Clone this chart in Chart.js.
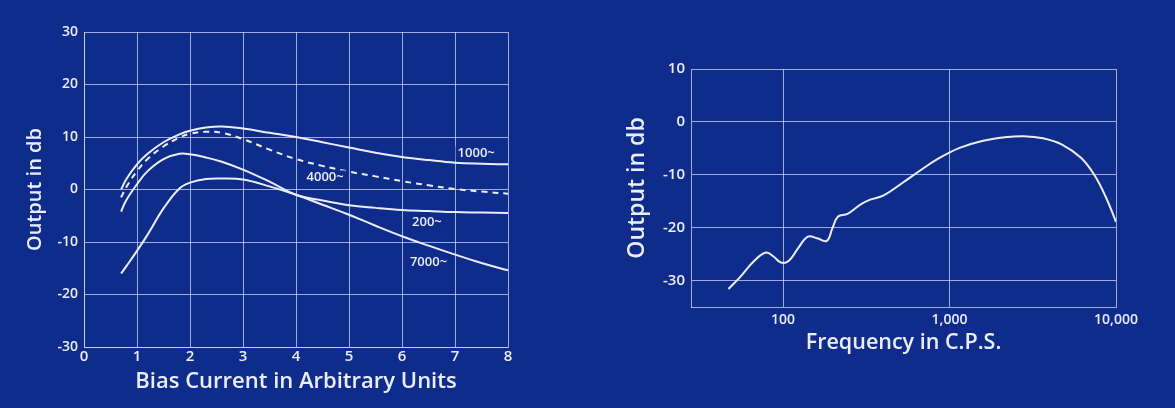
<!DOCTYPE html>
<html>
<head>
<meta charset="utf-8">
<script src="https://cdn.jsdelivr.net/npm/chart.js@4.4.1/dist/chart.umd.min.js"></script>
<style>
    html, body { margin: 0; padding: 0; background: #102c8b; }
    #wrap { position: relative; width: 1175px; height: 408px; overflow: hidden; background: #102c8b; }
    .box { position: absolute; top: 0; }
</style>
</head>
<body>
<div id="wrap">
    <div class="box" style="left:0px;"><canvas id="biasChart" width="560" height="408"></canvas></div>
    <div class="box" style="left:580px;"><canvas id="freqChart" width="595" height="408"></canvas></div>
</div>
<script>
// Linkes Diagramm: Ausgang ueber Vormagnetisierungsstrom
const biasX = [0.7, 0.8, 1.0, 1.2, 1.5, 1.8, 2.0, 2.3, 2.6, 3.0, 3.5, 4.0, 4.5, 5.0, 5.5, 6.0, 6.5, 7.0, 7.5, 8.0];
const out1000 = [0.0, 2.0, 4.8, 6.8, 9.0, 10.5, 11.2, 11.8, 12.0, 11.6, 10.8, 10.0, 9.0, 8.0, 7.0, 6.2, 5.6, 5.1, 4.9, 4.8];
const out4000 = [-1.5, 0.5, 3.5, 5.8, 8.2, 9.9, 10.6, 11.0, 10.8, 9.6, 7.6, 5.8, 4.5, 3.4, 2.5, 1.6, 0.8, 0.1, -0.4, -0.8];
const out200 = [-4.2, -2.0, 1.0, 3.5, 5.8, 6.8, 6.7, 6.1, 5.3, 3.8, 1.5, -1.0, -2.1, -3.0, -3.5, -3.9, -4.1, -4.3, -4.4, -4.5];
const out7000 = [-16.0, -14.6, -11.7, -8.6, -3.6, 0.2, 1.3, 2.0, 2.1, 1.9, 0.6, -1.0, -2.9, -4.8, -6.9, -8.9, -10.7, -12.4, -14.0, -15.4];
const biasTicks = [0, 1, 2, 3, 4, 5, 6, 7, 8];
const dbTicksLeft = [-30, -20, -10, 0, 10, 20, 30];
const curveNames = ['1000~', '4000~', '200~', '7000~'];

// Rechtes Diagramm: Frequenzgang
const freq = [47, 55, 67, 79, 88, 97, 108, 123, 141, 160, 183, 198, 214, 244, 293, 334, 402, 523, 680, 860, 1150, 1570, 2150, 2800, 3640, 4740, 6160, 7400, 8660, 10000];
const freqDb = [-31.6, -29.4, -26.3, -24.7, -25.5, -26.6, -26.3, -23.9, -21.7, -22.0, -22.5, -20.1, -17.9, -17.4, -15.6, -14.7, -13.9, -11.5, -9.0, -6.9, -4.9, -3.6, -2.9, -2.7, -3.1, -4.3, -6.8, -10.0, -14.1, -18.9];
const freqTicks = [100, 1000, 10000];
const dbTicksRight = [-30, -20, -10, 0, 10];

const bg = '#102c8b';
const ink = '#e8eeff';
const gridInk = 'rgba(200, 216, 255, 0.75)';
Chart.defaults.font.family = "'Open Sans', sans-serif";
Chart.defaults.font.weight = '600';
Chart.defaults.color = ink;

function toPoints(xs, ys) {
    return xs.map((x, i) => ({ x: x, y: ys[i] }));
}

function line(data, dashed) {
    return {
        data: data,
        borderColor: ink,
        borderWidth: 2,
        borderDash: dashed ? [6, 5] : [],
        pointRadius: 0,
        tension: 0.4,
        fill: false
    };
}

// Beschriftungen der Kurven im linken Diagramm (in Datenkoordinaten)
const curveLabelPlugin = {
    id: 'curveLabels',
    afterDatasetsDraw(chart) {
        const spots = [[7.4, 6.9], [4.55, 2.3], [6.47, -6.3], [6.5, -13.9]];
        const ctx = chart.ctx;
        ctx.save();
        ctx.font = "600 13px 'Open Sans', sans-serif";
        ctx.textAlign = 'center';
        ctx.textBaseline = 'middle';
        curveNames.forEach((name, i) => {
            const px = chart.scales.x.getPixelForValue(spots[i][0]);
            const py = chart.scales.y.getPixelForValue(spots[i][1]);
            const w = ctx.measureText(name).width;
            ctx.fillStyle = bg;
            ctx.fillRect(px - w / 2 - 2, py - 7, w + 4, 14);
            ctx.fillStyle = ink;
            ctx.fillText(name, px, py);
        });
        ctx.restore();
    }
};

new Chart(document.getElementById('biasChart'), {
    type: 'line',
    data: {
        datasets: [
            line(toPoints(biasX, out1000), false),
            line(toPoints(biasX, out4000), true),
            line(toPoints(biasX, out200), false),
            line(toPoints(biasX, out7000), false)
        ]
    },
    options: {
        responsive: false,
        devicePixelRatio: 1,
        animation: false,
        layout: { padding: { top: 32, right: 52, bottom: 0, left: 0 } },
        plugins: { legend: { display: false }, tooltip: { enabled: false } },
        scales: {
            x: {
                type: 'linear',
                min: 0,
                max: 8,
                afterBuildTicks: (s) => { s.ticks = biasTicks.map(v => ({ value: v })); },
                afterFit: (s) => { s.height = 61; },
                grid: { color: gridInk, drawTicks: false },
                border: { color: gridInk },
                ticks: { padding: 1, font: { size: 15 } },
                title: {
                    display: true,
                    text: 'Bias Current in Arbitrary Units',
                    font: { size: 22 },
                    padding: { top: 0, bottom: 13 }
                }
            },
            y: {
                min: -30,
                max: 30,
                afterBuildTicks: (s) => { s.ticks = dbTicksLeft.map(v => ({ value: v })); },
                afterFit: (s) => { s.width = 84; },
                grid: { color: gridInk, drawTicks: false },
                border: { color: gridInk },
                ticks: { padding: 6, font: { size: 14 } },
                title: {
                    display: true,
                    text: 'Output in db',
                    font: { size: 20 },
                    padding: { top: 23, bottom: 0 }
                }
            }
        }
    },
    plugins: [curveLabelPlugin]
});

new Chart(document.getElementById('freqChart'), {
    type: 'line',
    data: {
        datasets: [line(toPoints(freq, freqDb), false)]
    },
    options: {
        responsive: false,
        devicePixelRatio: 1,
        animation: false,
        layout: { padding: { top: 69, right: 59, bottom: 0, left: 0 } },
        plugins: { legend: { display: false }, tooltip: { enabled: false } },
        scales: {
            x: {
                type: 'logarithmic',
                min: 28,
                max: 10000,
                afterBuildTicks: (s) => { s.ticks = freqTicks.map(v => ({ value: v })); },
                afterFit: (s) => { s.height = 101; },
                grid: { color: gridInk, drawTicks: false },
                border: { color: gridInk },
                ticks: {
                    padding: 5,
                    font: { size: 14 },
                    callback: (v) => Number(v).toLocaleString('en-US')
                },
                title: {
                    display: true,
                    text: 'Frequency in C.P.S.',
                    font: { size: 21.5 },
                    padding: { top: 0, bottom: 52 }
                }
            },
            y: {
                min: -35,
                max: 10,
                afterBuildTicks: (s) => { s.ticks = dbTicksRight.map(v => ({ value: v })); },
                afterFit: (s) => { s.width = 111; },
                grid: { color: gridInk, drawTicks: false },
                border: { color: gridInk },
                ticks: { padding: 6, font: { size: 15 } },
                title: {
                    display: true,
                    text: 'Output in db',
                    font: { size: 23 },
                    padding: { top: 44, bottom: 0 }
                }
            }
        }
    }
});
</script>
</body>
</html>
